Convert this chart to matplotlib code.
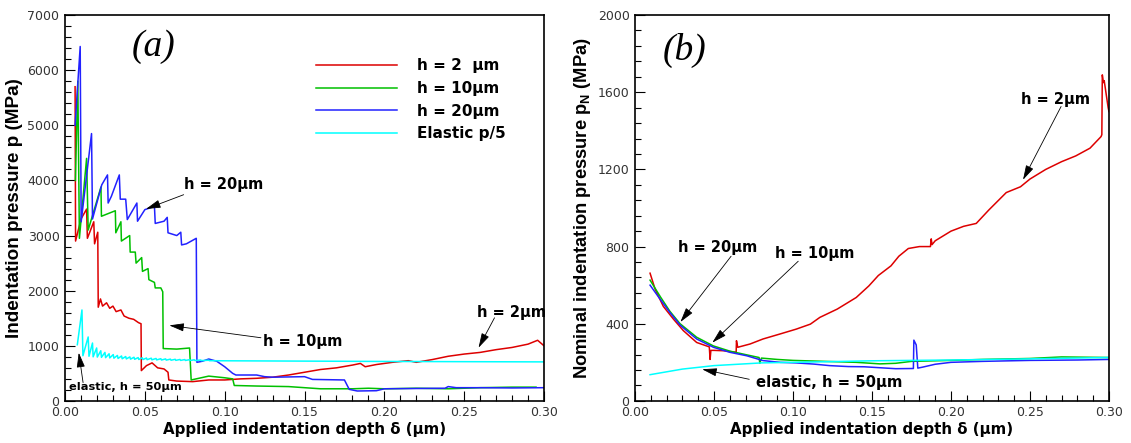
import numpy as np
import matplotlib
matplotlib.use("Agg")
import matplotlib.pyplot as plt
from matplotlib.ticker import MultipleLocator, FormatStrFormatter

plt.rcParams['font.family'] = ['DejaVu Sans']
plt.rcParams['mathtext.fontset'] = 'custom'
plt.rcParams['mathtext.rm'] = 'Liberation Sans'
plt.rcParams['mathtext.bf'] = 'Liberation Sans:bold'

# ---- panel (a): indentation pressure p (MPa) vs depth (um) ----
red_a_d = [0.0063, 0.0066, 0.0100, 0.0135, 0.0140, 0.0180, 0.0185, 0.0205, 0.0208, 0.0222,
           0.0235, 0.0260, 0.0280, 0.0300, 0.0320, 0.0350, 0.0370, 0.0400, 0.0430, 0.0460,
           0.0476, 0.0478, 0.0510, 0.0545, 0.0580, 0.0620, 0.0645, 0.0650, 0.0700, 0.0800,
           0.0900, 0.1000, 0.1100, 0.1200, 0.1300, 0.1400, 0.1500, 0.1600, 0.1700, 0.1800,
           0.1850, 0.1880, 0.1950, 0.2050, 0.2150, 0.2200, 0.2300, 0.2400, 0.2500, 0.2600,
           0.2700, 0.2800, 0.2900, 0.2960, 0.2980, 0.3000]
red_a_p = [5700, 2900, 3300, 3480, 2950, 3250, 2850, 3060, 1700, 1850,
           1720, 1780, 1680, 1720, 1620, 1650, 1540, 1500, 1480, 1420,
           1400, 550, 640, 690, 600, 580, 520, 380, 360, 350,
           380, 380, 400, 410, 430, 470, 520, 570, 600, 650,
           680, 620, 660, 700, 730, 700, 750, 810, 850, 880,
           930, 970, 1030, 1100, 1050, 1000]

green_a_d = [0.0065, 0.0080, 0.0090, 0.0135, 0.0145, 0.0225, 0.0228, 0.0315, 0.0318, 0.0350,
             0.0353, 0.0405, 0.0408, 0.0440, 0.0445, 0.0480, 0.0485, 0.0520, 0.0525, 0.0560,
             0.0565, 0.0600, 0.0612, 0.0615, 0.0700, 0.0780, 0.0790, 0.0900, 0.1000, 0.1050,
             0.1060, 0.1200, 0.1400, 0.1550, 0.1600, 0.1800, 0.1900, 0.2000, 0.2200, 0.2400,
             0.2600, 0.2800, 0.2950]
green_a_p = [4000, 5800, 2950, 4400, 3100, 3880, 3350, 3450, 3050, 3250,
             2900, 3000, 2700, 2700, 2500, 2600, 2350, 2400, 2200, 2150,
             2050, 2050, 1980, 950, 940, 960, 380, 450, 420, 400,
             280, 270, 260, 230, 220, 220, 230, 220, 230, 220,
             240, 250, 250]

blue_a_d = [0.0063, 0.0095, 0.0101, 0.0166, 0.0172, 0.0230, 0.0266, 0.0270, 0.0290, 0.0340,
            0.0346, 0.0380, 0.0390, 0.0450, 0.0454, 0.0500, 0.0560, 0.0565, 0.0620, 0.0640,
            0.0645, 0.0700, 0.0725, 0.0730, 0.0760, 0.0822, 0.0826, 0.0860, 0.0900, 0.0950,
            0.1000, 0.1050, 0.1070, 0.1200, 0.1250, 0.1300, 0.1500, 0.1550, 0.1750, 0.1780,
            0.1830, 0.1950, 0.2000, 0.2380, 0.2400, 0.2450, 0.2600, 0.2800, 0.3000]
blue_a_p = [5000, 6430, 3250, 4850, 3300, 3920, 4100, 3590, 3710, 4100,
            3660, 3660, 3290, 3590, 3260, 3470, 3530, 3220, 3260, 3330,
            3050, 3000, 3060, 2830, 2850, 2950, 700, 720, 760, 720,
            620, 500, 470, 470, 440, 430, 440, 390, 380, 210,
            180, 185, 220, 230, 260, 240, 240, 235, 240]

cyan_a_d = [0.0077, 0.0106, 0.0112, 0.0145, 0.0150, 0.0172, 0.0176, 0.0198, 0.0202, 0.0224,
            0.0228, 0.0250, 0.0254, 0.0276, 0.0280, 0.0302, 0.0306, 0.0328, 0.0332, 0.0354,
            0.0358, 0.0380, 0.0384, 0.0406, 0.0410, 0.0432, 0.0436, 0.0458, 0.0462, 0.0484,
            0.0488, 0.0510, 0.0514, 0.0540, 0.0544, 0.0570, 0.0574, 0.0600, 0.0604, 0.0630,
            0.0634, 0.0660, 0.0664, 0.0690, 0.0694, 0.0720, 0.0724, 0.0750, 0.0754, 0.0780,
            0.0784, 0.0810, 0.0814, 0.0850, 0.0854, 0.0900, 0.0904, 0.1000, 0.1500, 0.2000,
            0.2500, 0.3000]
cyan_a_p = [1020, 1650, 820, 1160, 810, 1050, 800, 960, 795, 910,
            790, 880, 785, 855, 780, 840, 775, 825, 770, 815,
            765, 805, 762, 798, 758, 792, 755, 786, 752, 782,
            750, 778, 748, 775, 746, 770, 744, 766, 742, 762,
            740, 758, 738, 755, 736, 752, 735, 750, 734, 748,
            733, 746, 732, 742, 731, 738, 730, 728, 722, 716,
            712, 708]

# ---- panel (b): nominal indentation pressure pN (MPa) vs depth (um) ----
red_b_d = [0.0095, 0.0127, 0.0179, 0.0243, 0.0306, 0.0390, 0.0470, 0.0475, 0.0480, 0.0500,
           0.0560, 0.0640, 0.0642, 0.0650, 0.0728, 0.0810, 0.0918, 0.1020, 0.1110, 0.1170,
           0.1280, 0.1400, 0.1480, 0.1540, 0.1620, 0.1670, 0.1730, 0.1800, 0.1870, 0.1875,
           0.1880, 0.1900, 0.2000, 0.2080, 0.2160, 0.2240, 0.2350, 0.2440, 0.2500, 0.2520,
           0.2600, 0.2700, 0.2790, 0.2880, 0.2950, 0.2955, 0.2958, 0.2965, 0.2970, 0.2995,
           0.3000]
red_b_p = [662, 579, 490, 424, 364, 303, 280, 215, 262, 262,
           260, 252, 312, 278, 295, 321, 347, 372, 398, 433,
           476, 536, 596, 650, 700, 750, 790, 800, 800, 840,
           810, 830, 880, 905, 920, 990, 1080, 1110, 1150, 1160,
           1200, 1240, 1270, 1310, 1370, 1380, 1690, 1650, 1660, 1520,
           1500]

green_b_d = [0.0095, 0.0160, 0.0220, 0.0285, 0.0390, 0.0496, 0.0600, 0.0700, 0.0785, 0.0790,
             0.0800, 0.0900, 0.1000, 0.1200, 0.1400, 0.1550, 0.1650, 0.1750, 0.2000, 0.2200,
             0.2500, 0.2700, 0.3000]
green_b_p = [626, 540, 465, 400, 330, 285, 258, 240, 225, 195,
             222, 215, 210, 205, 200, 192, 195, 205, 210, 215,
             220, 228, 225]

blue_b_d = [0.0095, 0.0158, 0.0220, 0.0285, 0.0390, 0.0496, 0.0600, 0.0707, 0.0810, 0.0920,
            0.1020, 0.1130, 0.1230, 0.1350, 0.1450, 0.1550, 0.1650, 0.1762, 0.1765, 0.1780,
            0.1790, 0.1820, 0.1900, 0.2000, 0.2200, 0.2500, 0.2800, 0.3000]
blue_b_p = [600, 528, 459, 393, 321, 278, 252, 234, 209, 200,
            197, 191, 183, 178, 177, 172, 167, 168, 315, 290,
            170, 175, 190, 200, 205, 210, 212, 215]

cyan_b_d = [0.0095, 0.0300, 0.0500, 0.0800, 0.1200, 0.1500, 0.2000, 0.2500, 0.3000]
cyan_b_p = [136, 165, 183, 197, 203, 208, 212, 218, 225]

series_labels = ['h = 2  \u03bcm', 'h = 10\u03bcm', 'h = 20\u03bcm', 'Elastic p/5']
c_red, c_green, c_blue, c_cyan = '#dd0000', '#00c000', '#2222ff', '#00ffff'

narrow = ['Liberation Sans']   # used for the rotated y labels

fig = plt.figure(figsize=[11.31, 4.43], dpi=100)
axa = fig.add_axes([0.0575, 0.095, 0.4235, 0.871])
axb = fig.add_axes([0.5615, 0.095, 0.419, 0.871])

lw = 1.1
axa.plot(red_a_d, red_a_p, color=c_red, lw=lw, label=series_labels[0])
axa.plot(green_a_d, green_a_p, color=c_green, lw=lw, label=series_labels[1])
axa.plot(blue_a_d, blue_a_p, color=c_blue, lw=lw, label=series_labels[2])
axa.plot(cyan_a_d, cyan_a_p, color=c_cyan, lw=lw, label=series_labels[3])

axb.plot(red_b_d, red_b_p, color=c_red, lw=lw)
axb.plot(green_b_d, green_b_p, color=c_green, lw=lw)
axb.plot(blue_b_d, blue_b_p, color=c_blue, lw=lw)
axb.plot(cyan_b_d, cyan_b_p, color=c_cyan, lw=lw)

for ax, ymax, ymaj, ymin in [(axa, 7000, 1000, 200), (axb, 2000, 400, 80)]:
    ax.set_xlim(0, 0.30)
    ax.set_ylim(0, ymax)
    ax.xaxis.set_major_locator(MultipleLocator(0.05))
    ax.xaxis.set_minor_locator(MultipleLocator(0.01))
    ax.xaxis.set_major_formatter(FormatStrFormatter('%.2f'))
    ax.yaxis.set_major_locator(MultipleLocator(ymaj))
    ax.yaxis.set_minor_locator(MultipleLocator(ymin))
    ax.tick_params(which='both', direction='in', top=False, right=False,
                   labelsize=9, labelcolor='#333333', pad=4)
    ax.tick_params(which='major', length=7, width=0.8)
    ax.tick_params(which='minor', length=4, width=0.8)
    for s in ax.spines.values():
        s.set_linewidth(1.2)
    ax.set_xlabel('Applied indentation depth \u03b4 (\u03bcm)', fontsize=10.8, fontweight='bold',
                  labelpad=2)

axa.set_ylabel('Indentation pressure p (MPa)', fontsize=13.6, fontweight='bold',
               family=narrow, labelpad=3)
axb.set_ylabel(r'Nominal indentation pressure p$_\mathbf{N}$ (MPa)', fontsize=13.2,
               fontweight='bold', family=narrow, labelpad=3)

axa.legend(loc='upper left', bbox_to_anchor=(0.525, 0.888), frameon=False, borderpad=0,
           borderaxespad=0, handlelength=5.3, handletextpad=1.25, labelspacing=0.5,
           prop={'weight': 'bold', 'size': 11})

arrow = dict(arrowstyle='-|>,head_length=0.9,head_width=0.25', color='k', lw=0.6,
             shrinkA=0, shrinkB=0)
bold = dict(fontweight='bold', va='center', ha='left')

# panel (a) annotations
axa.text(0.0557, 6420, '(a)', fontsize=27, family='Liberation Serif', style='italic',
         ha='center', va='center')
axa.text(0.0743, 3934, 'h = 20\u03bcm', fontsize=10.5, **bold)
axa.annotate('', xy=(0.0507, 3482), xytext=(0.0743, 3741), arrowprops=arrow)
axa.text(0.1239, 1086, 'h = 10\u03bcm', fontsize=10.5, **bold)
axa.annotate('', xy=(0.0653, 1370), xytext=(0.1227, 1146), arrowprops=arrow)
axa.text(0.2580, 1611, 'h = 2\u03bcm', fontsize=10.5, **bold)
axa.annotate('', xy=(0.2590, 965), xytext=(0.2690, 1508), arrowprops=arrow)
axa.text(0.0023, 253, 'elastic, h = 50\u03bcm', fontsize=8.2, **bold)
axa.annotate('', xy=(0.0086, 875), xytext=(0.0113, 332), arrowprops=arrow)

# panel (b) annotations
axb.text(0.0315, 1819, '(b)', fontsize=27, family='Liberation Serif', style='italic',
         ha='center', va='center')
axb.text(0.2445, 1564, 'h = 2\u03bcm', fontsize=10.5, **bold)
axb.annotate('', xy=(0.2456, 1146), xytext=(0.2697, 1526), arrowprops=arrow)
axb.text(0.0275, 793, 'h = 20\u03bcm', fontsize=10.5, **bold)
axb.annotate('', xy=(0.0287, 409), xytext=(0.0608, 750), arrowprops=arrow)
axb.text(0.0888, 764, 'h = 10\u03bcm', fontsize=10.5, **bold)
axb.annotate('', xy=(0.0489, 302), xytext=(0.1033, 724), arrowprops=arrow)
axb.text(0.0764, 95, 'elastic, h = 50\u03bcm', fontsize=10.7, **bold)
axb.annotate('', xy=(0.0425, 164), xytext=(0.0723, 112), arrowprops=arrow)

fig.savefig('out.png', dpi=100)
